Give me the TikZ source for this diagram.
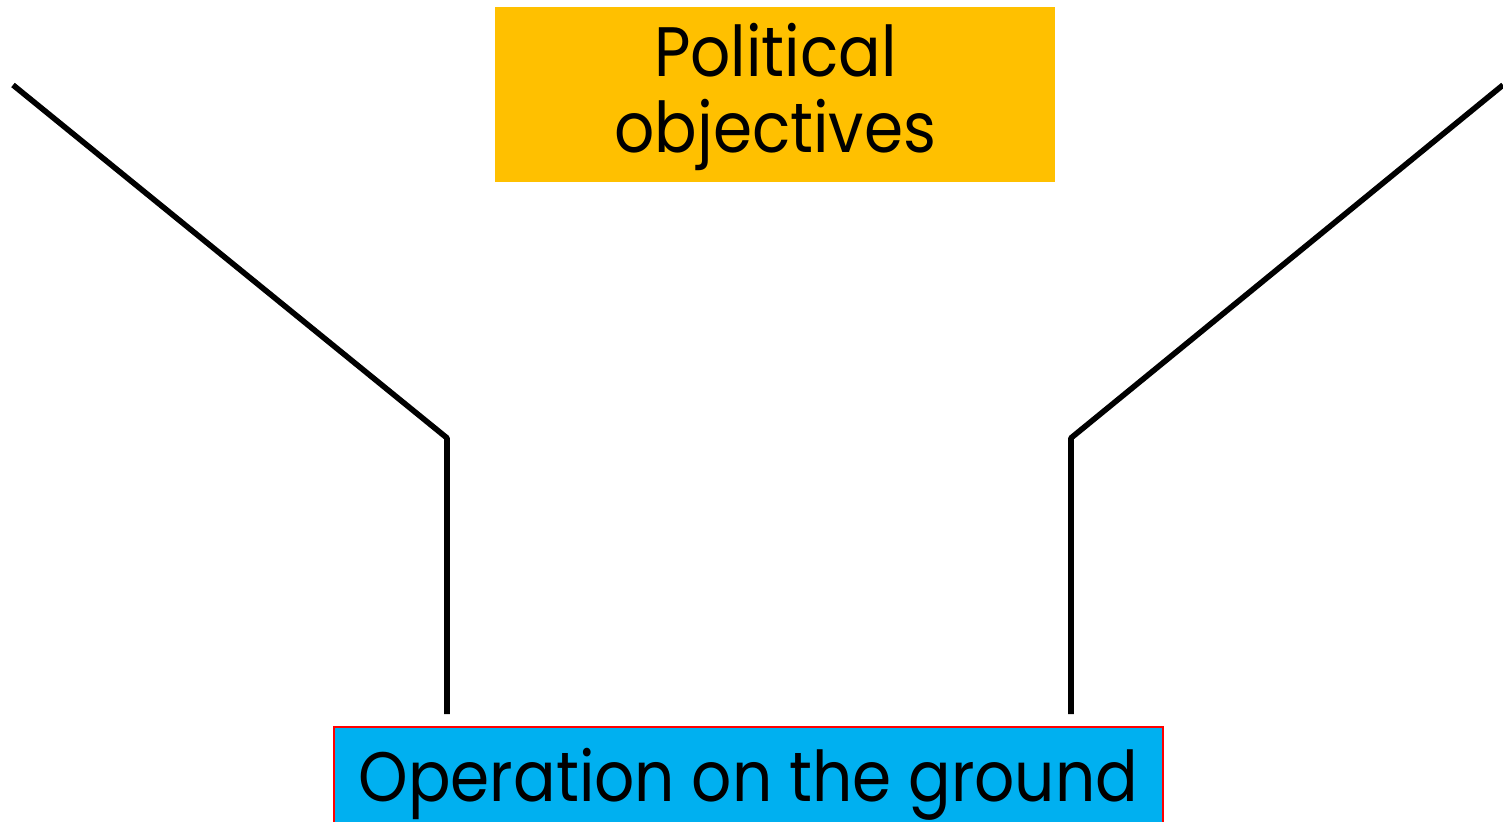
\documentclass[tikz,border=0pt]{standalone}
\usepackage{fontspec}
\setmainfont{Poppins}[FakeStretch=0.9]
\usetikzlibrary{positioning}
\definecolor{goalfill}{HTML}{FFC000}
\definecolor{groundfill}{HTML}{00B0F0}

\begin{document}
\begin{tikzpicture}[
    x=0.5pt, y=-0.5pt,
    box/.style = {inner sep=0pt, align=center, font=\fontsize{35}{37.5}\selectfont},
    wall/.style = {line width=2.8pt, line join=bevel}
  ]
  \useasboundingbox (0,0) rectangle (1503,822);

  \node[box, fill=goalfill, minimum width=280pt, minimum height=87.5pt, anchor=north west] (objectives) at (495,7)
    {\raisebox{-2pt}[\height][\depth]{\begin{tabular}{@{}c@{}}Political\\objectives\end{tabular}}};
  \node[box, fill=groundfill, draw=red, line width=1pt, minimum width=414.5pt, minimum height=57pt, anchor=north west] (operation) at (333,726) {Operation on the ground};

  \coordinate (left top) at (13,85);
  \coordinate (left bend) at (447,438);
  \coordinate (left foot) at (447,714);
  \coordinate (right top) at (1503,85);
  \coordinate (right bend) at (1071,438);
  \coordinate (right foot) at (1071,714);

  \draw[wall] (left top)--(left bend)--(left foot);
  \draw[wall] (right top)--(right bend)--(right foot);
\end{tikzpicture}
\end{document}
